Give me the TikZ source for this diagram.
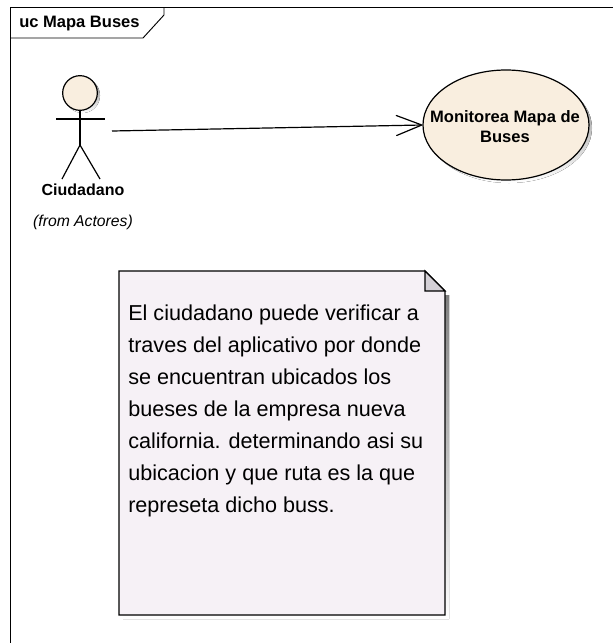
\documentclass[tikz,border=0pt]{standalone}
\usepackage{fontspec}
\setmainfont{Liberation Sans}
\usetikzlibrary{shapes.geometric,arrows.meta}
\definecolor{cream}{HTML}{F9EEDF}
\definecolor{notefill}{HTML}{F6F1F6}
\definecolor{shade}{HTML}{CFCFCF}
\definecolor{fold}{HTML}{D4D0D6}
\tikzset{
 ink/.style={draw=black,line width=0.9pt},
 thin ink/.style={draw=black,line width=0.7pt},
 lab/.style={font=\bfseries\fontsize{12pt}{14.5pt}\selectfont,inner sep=0pt,align=center},
}
\begin{document}
\begin{tikzpicture}[x=0.75pt,y=-0.75pt]
\useasboundingbox (0,0) rectangle (613,643);
\fill[white] (0,0) rectangle (613,643);
% frame
\draw[thin ink] (10,643) -- (10,7) -- (613,7);
\draw[thin ink] (10,38) -- (143,38) -- (164,15) -- (164,7);
\node[lab,anchor=west,font=\bfseries\fontsize{12.4pt}{14.5pt}\selectfont] (title) at (19,24) {uc Mapa Buses};
% actor
\fill[shade] (82.5,95.5) circle (17.5);
\node[circle,ink,fill=cream,minimum size=26pt,inner sep=0pt] (head) at (80,93) {};
\coordinate (hip) at (80,145);
\coordinate (armL) at (56,119);
\coordinate (armR) at (105,119);
\coordinate (footL) at (62,179);
\coordinate (footR) at (100,179);
\draw[ink] (head.south) -- (hip);
\draw[ink] (armL) -- (armR);
\draw[ink] (footL) -- (hip) -- (footR);
\node[lab] (ciudadano) at (83,190) {Ciudadano};
\node[inner sep=0pt,font=\itshape\fontsize{11.8pt}{14pt}\selectfont] (from) at (83,222) {(from Actores)};
% use case
\fill[shade] (509,128) ellipse (83 and 55);
\node[ellipse,ink,fill=cream,minimum width=124.5pt,minimum height=82.5pt,inner sep=0pt] (uc) at (506,125) {};
\node[lab,font=\bfseries\fontsize{12.4pt}{15pt}\selectfont] (uctext) at (505,127) {Monitorea Mapa de\\Buses};
\coordinate (start) at (112,131);
\draw[ink,-{Straight Barb[length=19pt,width=15pt,round]}] (start) -- (uc.west);
% note
\fill[shade] (123,400) -- (440,295) -- (449,295) -- (449,619) -- (123,619) -- cycle;
\draw[ink,fill=notefill] (119,271) -- (425,271) -- (445,291) -- (445,615) -- (119,615) -- cycle;
\draw[ink,fill=fold] (425,271) -- (445,291) -- (425,291) -- cycle;
\node[inner sep=0pt,anchor=north west,align=left,font=\fontsize{16.2pt}{24pt}\selectfont] (notetext) at (128,305) {El ciudadano puede verificar a\\traves del aplicativo por donde\\se encuentran ubicados los\\bueses de la empresa nueva\\california. determinando asi su\\ubicacion y que ruta es la que\\represeta dicho buss.};
\end{tikzpicture}
\end{document}
